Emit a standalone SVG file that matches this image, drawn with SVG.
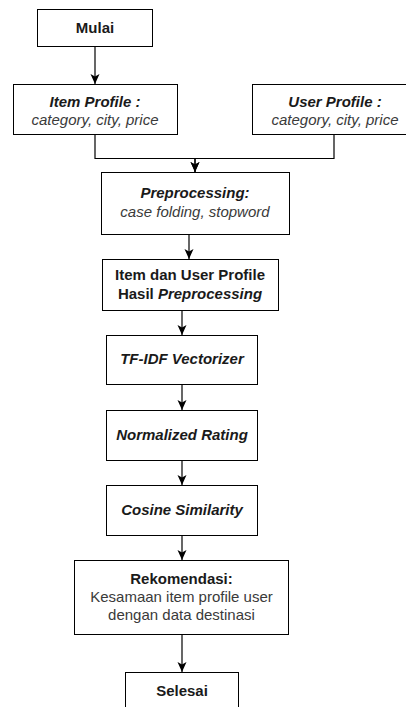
<svg xmlns="http://www.w3.org/2000/svg" width="406" height="707" viewBox="0 0 406 707">
  <style>
    .box { fill: #ffffff; stroke: #000000; stroke-width: 1; }
    .edge { fill: none; stroke: #000000; stroke-width: 1.2; }
    text { font-family: "Liberation Sans", Arial, sans-serif; font-size: 15px; text-anchor: middle; }
    .b { font-weight: bold; fill: #1a1a1a; }
    .i { font-style: italic; }
    .sub { fill: #3a3a3a; }
  </style>
  <defs>
    <marker id="arrow" markerUnits="userSpaceOnUse" markerWidth="10" markerHeight="10" viewBox="0 0 10 10" refX="10" refY="5" orient="auto">
      <path d="M0,0.5 L10,5 L0,9.5 L2.5,5 Z" fill="#000000"/>
    </marker>
  </defs>
  <rect width="406" height="707" fill="#ffffff"/>

  <g id="connectors">
    <path class="edge" d="M95,46.5 V84" marker-end="url(#arrow)"/>
    <path class="edge" d="M95,134.5 V158.5 H195 V172" marker-end="url(#arrow)"/>
    <path class="edge" d="M334,134.5 V158.5 H195 V172" marker-end="url(#arrow)"/>
    <path class="edge" d="M189,234.5 V259" marker-end="url(#arrow)"/>
    <path class="edge" d="M182,310.5 V335" marker-end="url(#arrow)"/>
    <path class="edge" d="M182,384.5 V410" marker-end="url(#arrow)"/>
    <path class="edge" d="M182,460.5 V485" marker-end="url(#arrow)"/>
    <path class="edge" d="M182,535.5 V560" marker-end="url(#arrow)"/>
    <path class="edge" d="M182,634.5 V672" marker-end="url(#arrow)"/>
  </g>

  <g id="mulai">
    <rect class="box" x="37.5" y="9.5" width="115" height="37"/>
    <text class="b" x="95" y="33">Mulai</text>
  </g>

  <g id="item-profile">
    <rect class="box" x="13.5" y="84.5" width="164" height="50"/>
    <text class="b i" x="95" y="107">Item Profile :</text>
    <text class="i sub" x="95" y="125">category, city, price</text>
  </g>

  <g id="user-profile">
    <rect class="box" x="252.5" y="84.5" width="166" height="50"/>
    <text class="b i" x="335" y="107">User Profile :</text>
    <text class="i sub" x="335" y="125">category, city, price</text>
  </g>

  <g id="preprocessing">
    <rect class="box" x="101.5" y="172.5" width="188" height="62"/>
    <text class="b i" x="195" y="198">Preprocessing:</text>
    <text class="i sub" x="195" y="217">case folding, stopword</text>
  </g>

  <g id="hasil-preprocessing">
    <rect class="box" x="102.5" y="259.5" width="176" height="51"/>
    <text class="b" x="190" y="280">Item dan User Profile</text>
    <text class="b" x="190" y="299">Hasil <tspan class="i">Preprocessing</tspan></text>
  </g>

  <g id="tfidf">
    <rect class="box" x="106.5" y="335.5" width="151" height="49"/>
    <text class="b i" x="182" y="364">TF-IDF Vectorizer</text>
  </g>

  <g id="normalized-rating">
    <rect class="box" x="106.5" y="410.5" width="151" height="50"/>
    <text class="b i" x="182" y="440">Normalized Rating</text>
  </g>

  <g id="cosine-similarity">
    <rect class="box" x="106.5" y="485.5" width="151" height="50"/>
    <text class="b i" x="182" y="515">Cosine Similarity</text>
  </g>

  <g id="rekomendasi">
    <rect class="box" x="74.5" y="560.5" width="214" height="74"/>
    <text class="b" x="181.5" y="584">Rekomendasi:</text>
    <text class="sub" x="181.5" y="602">Kesamaan item profile user</text>
    <text class="sub" x="181.5" y="620">dengan data destinasi</text>
  </g>

  <g id="selesai">
    <rect class="box" x="125.5" y="672.5" width="113" height="50"/>
    <text class="b" x="182" y="696">Selesai</text>
  </g>
</svg>
